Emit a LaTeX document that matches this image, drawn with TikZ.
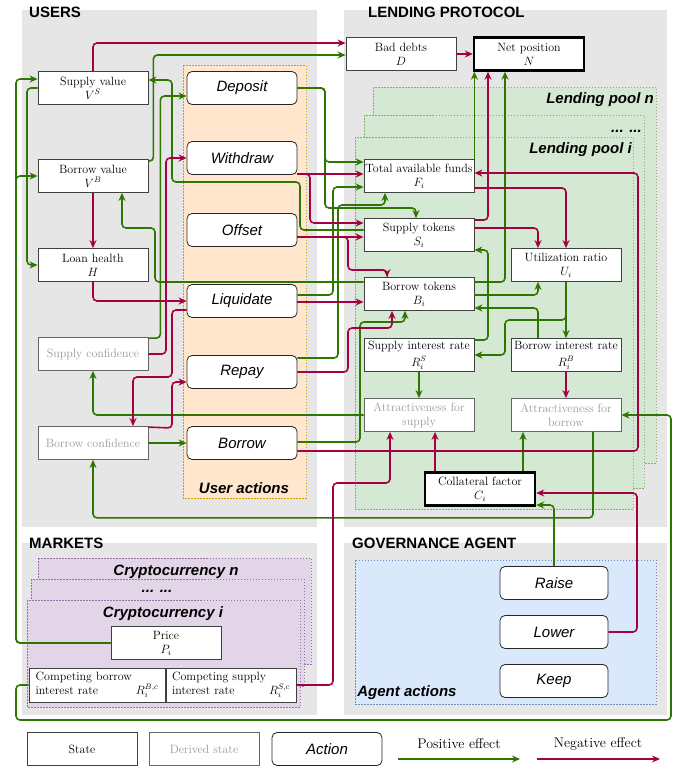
\documentclass[tikz,border=0pt]{standalone}
\usepackage{amsmath, amssymb}
\usepackage{fontspec}
\setsansfont{Liberation Sans}
\usepackage{tikz}
\usetikzlibrary{arrows.meta, positioning}

\definecolor{posgreen}{HTML}{2D7600}
\definecolor{negred}{HTML}{A50040}
\definecolor{panelgray}{HTML}{E6E6E6}
\definecolor{actionfill}{HTML}{FFE6CC}
\definecolor{actionline}{HTML}{D79B00}
\definecolor{poolfill}{HTML}{D5E8D4}
\definecolor{poolline}{HTML}{82B366}
\definecolor{cryptofill}{HTML}{E1D5E7}
\definecolor{cryptoline}{HTML}{9673A6}
\definecolor{agentfill}{HTML}{DAE8FC}
\definecolor{agentline}{HTML}{6C8EBF}

\begin{document}
\begin{tikzpicture}[x=1pt, y=-1pt,
    state node/.style={draw=black!75, fill=white, line width=0.8pt, minimum width=110pt, minimum height=33pt, inner sep=1pt, align=center, font=\fontsize{12}{14}\selectfont},
    derived node/.style={state node, draw=black!60, text=black!40},
    key node/.style={state node, draw=black, line width=2.4pt},
    action node/.style={draw=black!85, fill=white, line width=0.8pt, rounded corners=5pt, minimum width=110pt, minimum height=33pt, font=\sffamily\itshape\fontsize{15}{17}\selectfont},
    group box/.style={line width=0.6pt, dash pattern=on 1.5pt off 1.5pt},
    panel title/.style={anchor=west, inner sep=0pt, font=\sffamily\bfseries\fontsize{15}{17}\selectfont},
    group label/.style={inner sep=0pt, font=\sffamily\bfseries\itshape\fontsize{15}{17}\selectfont},
    legend text/.style={inner sep=0pt, font=\fontsize{14}{16}\selectfont},
    pos edge/.style={draw=posgreen, line width=1.6pt, rounded corners=4pt, -{Stealth[length=8pt, width=7pt]}},
    neg edge/.style={pos edge, draw=negred}]
    \useasboundingbox (0,0) rectangle (683,769);

    \fill[panelgray] (22,10) rectangle (317,527);
    \fill[panelgray] (344,10) rectangle (667,527);
    \fill[panelgray] (22,543) rectangle (317,715);
    \fill[panelgray] (344,543) rectangle (667,715);
    \draw[group box, draw=actionline, fill=actionfill] (183,65) rectangle (306,498);
    \draw[group box, draw=poolline, fill=poolfill] (373,87) rectangle (656,463);
    \draw[group box, draw=poolline, fill=poolfill] (364,115) rectangle (644,488);
    \draw[group box, draw=poolline, fill=poolfill] (355,137) rectangle (633,509);
    \draw[group box, draw=cryptoline, fill=cryptofill] (38,558) rectangle (311,664);
    \draw[group box, draw=cryptoline, fill=cryptofill] (31,579) rectangle (304,686);
    \draw[group box, draw=cryptoline, fill=cryptofill] (27,600) rectangle (300,707);
    \draw[group box, draw=agentline, fill=agentfill] (355,560) rectangle (656,704);

    \node[panel title] (users) at (29,12) {USERS};
    \node[panel title] (lending) at (368,12) {LENDING PROTOCOL};
    \node[panel title] (markets) at (29,543) {MARKETS};
    \node[panel title] (governance) at (352,543) {GOVERNANCE AGENT};
    \node[group label] (useractions) at (244,488) {User actions};
    \node[group label, anchor=east] (pooln) at (654,100) {Lending pool n};
    \node[group label, anchor=east] (pooldots) at (642,131) {... ...};
    \node[group label, anchor=east] (pooli) at (632,150) {Lending pool i};
    \node[group label] (cryptn) at (176,572) {Cryptocurrency n};
    \node[group label] (cryptdots) at (157,591) {... ...};
    \node[group label] (crypti) at (163,614) {Cryptocurrency i};
    \node[group label] (agentactions) at (407,693) {Agent actions};

    \node[state node] (sv) at (93,88) {Supply value\\$V^S$};
    \node[state node] (bv) at (93,176) {Borrow value\\$V^B$};
    \node[state node] (lh) at (93,265) {Loan health\\$H$};
    \node[derived node] (sc) at (93,354) {Supply confidence};
    \node[derived node] (bc) at (93,443) {Borrow confidence};

    \node[action node] (dep) at (242,88) {Deposit};
    \node[action node] (wdr) at (242,158) {Withdraw};
    \node[action node] (off) at (242,230) {Offset};
    \node[action node] (liq) at (242,301) {Liquidate};
    \node[action node] (rep) at (242,372) {Repay};
    \node[action node] (bor) at (242,443) {Borrow};

    \node[state node] (bd) at (401,54) {Bad debts\\$D$};
    \node[key node] (np) at (529,54) {Net position\\$N$};
    \node[state node] (taf) at (419,176) {Total available funds\\$F_i$};
    \node[state node] (st) at (419,235) {Supply tokens\\$S_i$};
    \node[state node] (bt) at (419,294) {Borrow tokens\\$B_i$};
    \node[state node] (ur) at (566,265) {Utilization ratio\\$U_i$};
    \node[state node] (sir) at (419,355) {Supply interest rate\\[3pt]$R_i^S$};
    \node[state node] (bir) at (566,355) {Borrow interest rate\\[3pt]$R_i^B$};
    \node[derived node] (as) at (419,415) {Attractiveness for\\supply};
    \node[derived node] (ab) at (566,415) {Attractiveness for\\borrow};
    \node[key node] (cf) at (480,489) {Collateral factor\\$C_i$};

    \node[action node, minimum width=108pt] (raise) at (554,583) {Raise};
    \node[action node, minimum width=108pt] (lower) at (554,632) {Lower};
    \node[action node, minimum width=108pt] (keep) at (554,681) {Keep};

    \node[state node] (price) at (166,643) {Price\\$P_i$};
    \node[state node, minimum width=136pt, minimum height=34pt] (cbr) at (97,685) {\begin{tabular}[b]{@{}l@{}}Competing borrow\\interest rate\end{tabular}\hspace{4pt}$R_i^{B,c}$};
    \node[state node, minimum width=130pt, minimum height=34pt] (csr) at (231,685) {\begin{tabular}[b]{@{}l@{}}Competing supply\\interest rate\end{tabular}\hspace{3pt}$R_i^{S,c}$};

    \node[state node] (legstate) at (82,749) {State};
    \node[derived node] (legderived) at (204,749) {Derived state};
    \node[action node] (legaction) at (327,749) {Action};
    \node[legend text] (legpos) at (459,744) {Positive effect};
    \node[legend text] (legneg) at (598,744) {Negative effect};
    \coordinate (posfrom) at (398,759);
    \coordinate (posto) at (520,759);
    \coordinate (negfrom) at (537,759);
    \coordinate (negto) at (660,759);
    \draw[pos edge] (posfrom) -- (posto);
    \draw[neg edge] (negfrom) -- (negto);

    \draw[pos edge] (price.west) -- (16,643) |- ([yshift=9pt]sv.west);
    \draw[pos edge] (price.west) -- (16,643) |- (bv.west);
    \draw[pos edge] (sv.west) -- (27,88) |- (lh.west);
    \draw[pos edge] ([yshift=-2pt]bv.north east) -- ++(5,0) |- ([yshift=-1pt]bd.west);
    \draw[pos edge] ([yshift=-1pt]sc.north east) -- ++(12,0) |- ([yshift=-8pt]dep.west);
    \draw[pos edge] ([yshift=5pt]st.west) -- (300,230) |- (172,182) |- ([yshift=8pt]sv.east);
    \draw[pos edge] ([yshift=12pt]bt.west) -- (155,282) |- (122,228) -- ([xshift=29pt]bv.south);
    \draw[pos edge] (bc.east) -- (bor.west);
    \draw[pos edge] (as.west) -| (sc.south);
    \draw[pos edge] ([xshift=27pt]ab.south) -- ++(0,86) -| (bc.south);
    \draw[pos edge] (dep.east) -- (325,88) |- ([yshift=14pt]taf.west);
    \draw[pos edge] (dep.east) -- (325,88) |- (416,208) -- ([xshift=-3pt]st.north);
    \draw[pos edge] ([yshift=6pt]liq.east) -- (333,295) |- ([yshift=-11pt]taf.west);
    \draw[pos edge] ([yshift=14pt]rep.east) -- (338,358) |- (385,205) -- ([xshift=-34pt]taf.south);
    \draw[pos edge] ([yshift=1pt]bor.east) -- (360,442) |- (405,322) -- ([xshift=-14pt]bt.south);
    \draw[pos edge] ([yshift=15pt]sir.east) -- (488,340) |- ([yshift=-15pt]st.east);
    \draw[pos edge] ([yshift=-1pt]bt.east) -| ([xshift=-28pt]ur.south);
    \draw[pos edge] ([xshift=-28pt]bir.north) |- ([yshift=-14pt]bt.east);
    \draw[pos edge] (ur.south) -- (bir.north);
    \draw[pos edge] (ur.south) -- (566,320) -- (505,320) |- (sir.east);
    \draw[pos edge] (sir.south) -- (as.north);
    \draw[pos edge] ([xshift=43pt]cf.north) -- ([xshift=-43pt]ab.south);
    \draw[pos edge] (taf.north east) -- (taf.north east |- np.south);
    \draw[pos edge] ([yshift=12pt]bt.east) -| ([xshift=-24pt]np.south);
    \draw[pos edge] (raise.north) |- ([yshift=-16pt]cf.east);
    \draw[pos edge] (cbr.west) -- (16,685) -- (16,720) -- (671,720) |- (ab.east);

    \draw[neg edge] (sv.north) |- ([yshift=11pt]bd.west);
    \draw[neg edge] (bd.east) -- (np.west);
    \draw[neg edge] (bv.south) -- (lh.north);
    \draw[neg edge] (lh.south) |- (liq.west);
    \draw[neg edge] (sc.east) -- (166,354) |- (wdr.west);
    \draw[neg edge] ([yshift=-9pt]liq.west) -- (172,310) |- (133,377) -- ([xshift=40pt]bc.north);
    \draw[neg edge] ([yshift=-1pt]bc.north east) -- (172,428) |- ([yshift=-10pt]rep.west);
    \draw[neg edge] ([yshift=-16pt]wdr.east) -- ([yshift=2pt]taf.west);
    \draw[neg edge] ([yshift=-16pt]wdr.east) -- (310,174) |- ([yshift=12pt]st.west);
    \draw[neg edge] ([yshift=-7pt]off.east) -- ([yshift=-2pt]st.west);
    \draw[neg edge] ([yshift=-7pt]off.east) -- (348,237) |- (387,270) -- ([xshift=-32pt]bt.north);
    \draw[neg edge] ([yshift=-1pt]liq.east) -- ([yshift=-8pt]bt.west);
    \draw[neg edge] (rep.east) -- (348,372) |- (392,328) -- ([xshift=-27pt]bt.south);
    \draw[neg edge] ([yshift=-8pt]bor.east) -- (638,451) |- ([yshift=3pt]taf.east);
    \draw[neg edge] ([yshift=15pt]st.east) -| ([xshift=-41pt]np.south);
    \draw[neg edge] ([yshift=-12pt]taf.east) -| (ur.north);
    \draw[neg edge] ([yshift=7pt]st.east) -| ([xshift=-28pt]ur.north);
    \draw[neg edge] (bir.south) -- (ab.north);
    \draw[neg edge] ([xshift=-45pt]cf.north) -- ([xshift=16pt]as.south);
    \draw[neg edge] (csr.east) -- (333,685) |- (390,483) -- ([xshift=-29pt]as.south);
    \draw[neg edge] (lower.east) -- (637,632) |- ([yshift=-4pt]cf.east);
\end{tikzpicture}
\end{document}
